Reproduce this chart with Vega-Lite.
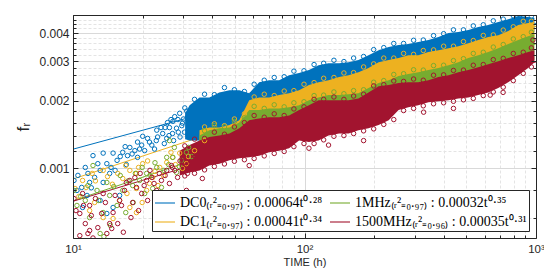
{
 "$schema": "https://vega.github.io/schema/vega-lite/v6.json",
 "width": 463,
 "height": 223,
 "autosize": {"type": "none"},
 "padding": {"left": 73, "top": 15, "right": 8, "bottom": 40},
 "background": "white",
 "config": {"view": {"stroke": null}},
 "datasets": {
  "fits": [
   {"s": "DC0", "t": 10, "f": 0.001218}, {"s": "DC0", "t": 1000, "f": 0.004427},
   {"s": "DC1", "t": 10, "f": 0.000897}, {"s": "DC1", "t": 1000, "f": 0.004293},
   {"s": "1MHz", "t": 10, "f": 0.000717}, {"s": "1MHz", "t": 1000, "f": 0.00359},
   {"s": "1500MHz", "t": 10, "f": 0.000714}, {"s": "1500MHz", "t": 1000, "f": 0.00298}
  ],
  "bands": [
   {"s":"DC0","t":30.5,"hi":0.00176,"lo":0.00135},{"s":"DC0","t":31.9,"hi":0.00191,"lo":0.00133},{"s":"DC0","t":35.2,"hi":0.00207,"lo":0.00133},{"s":"DC0","t":38.8,"hi":0.00207,"lo":0.00138},{"s":"DC0","t":42.9,"hi":0.00218,"lo":0.00138},{"s":"DC0","t":47.4,"hi":0.00223,"lo":0.0014},{"s":"DC0","t":52.3,"hi":0.00223,"lo":0.00148},{"s":"DC0","t":57.7,"hi":0.00216,"lo":0.00182},{"s":"DC0","t":63.7,"hi":0.00242,"lo":0.00187},{"s":"DC0","t":70.3,"hi":0.00247,"lo":0.00187},{"s":"DC0","t":77.7,"hi":0.00247,"lo":0.00191},{"s":"DC0","t":85.8,"hi":0.0026,"lo":0.00195},{"s":"DC0","t":94.7,"hi":0.00266,"lo":0.00201},{"s":"DC0","t":104.5,"hi":0.00274,"lo":0.00212},{"s":"DC0","t":115,"hi":0.00288,"lo":0.00218},{"s":"DC0","t":127,"hi":0.00294,"lo":0.00223},{"s":"DC0","t":141,"hi":0.00294,"lo":0.0023},{"s":"DC0","t":155,"hi":0.00297,"lo":0.00235},{"s":"DC0","t":171,"hi":0.00304,"lo":0.00242},{"s":"DC0","t":189,"hi":0.00319,"lo":0.00252},{"s":"DC0","t":209,"hi":0.00336,"lo":0.00268},{"s":"DC0","t":231,"hi":0.00347,"lo":0.00274},{"s":"DC0","t":255,"hi":0.00354,"lo":0.0028},{"s":"DC0","t":281,"hi":0.00358,"lo":0.00288},{"s":"DC0","t":310,"hi":0.00365,"lo":0.00288},{"s":"DC0","t":343,"hi":0.00373,"lo":0.00297},{"s":"DC0","t":379,"hi":0.00385,"lo":0.00304},{"s":"DC0","t":419,"hi":0.00401,"lo":0.0031},{"s":"DC0","t":462,"hi":0.00405,"lo":0.00316},{"s":"DC0","t":510,"hi":0.00413,"lo":0.00326},{"s":"DC0","t":563,"hi":0.00426,"lo":0.00336},{"s":"DC0","t":622,"hi":0.00435,"lo":0.00347},{"s":"DC0","t":687,"hi":0.00449,"lo":0.00354},{"s":"DC0","t":759,"hi":0.00462,"lo":0.00369},{"s":"DC0","t":838,"hi":0.00477,"lo":0.00392},{"s":"DC0","t":925,"hi":0.00472,"lo":0.00401},{"s":"DC0","t":984,"hi":0.00467,"lo":0.00405},
   {"s":"DC1","t":35.2,"hi":0.00148,"lo":0.00127},{"s":"DC1","t":38.8,"hi":0.00152,"lo":0.00133},{"s":"DC1","t":42.9,"hi":0.00152,"lo":0.00136},{"s":"DC1","t":47.4,"hi":0.00156,"lo":0.00138},{"s":"DC1","t":52.3,"hi":0.00164,"lo":0.00145},{"s":"DC1","t":57.7,"hi":0.00201,"lo":0.00164},{"s":"DC1","t":63.7,"hi":0.00207,"lo":0.00164},{"s":"DC1","t":70.3,"hi":0.00207,"lo":0.00167},{"s":"DC1","t":77.7,"hi":0.00212,"lo":0.00167},{"s":"DC1","t":85.8,"hi":0.00216,"lo":0.00169},{"s":"DC1","t":94.7,"hi":0.00223,"lo":0.00172},{"s":"DC1","t":104.5,"hi":0.00235,"lo":0.00182},{"s":"DC1","t":115,"hi":0.00242,"lo":0.00187},{"s":"DC1","t":127,"hi":0.00247,"lo":0.00191},{"s":"DC1","t":141,"hi":0.00255,"lo":0.00191},{"s":"DC1","t":155,"hi":0.0026,"lo":0.00193},{"s":"DC1","t":171,"hi":0.00268,"lo":0.00195},{"s":"DC1","t":189,"hi":0.0028,"lo":0.00205},{"s":"DC1","t":209,"hi":0.00297,"lo":0.00216},{"s":"DC1","t":231,"hi":0.00304,"lo":0.00223},{"s":"DC1","t":255,"hi":0.0031,"lo":0.00232},{"s":"DC1","t":281,"hi":0.00319,"lo":0.00237},{"s":"DC1","t":310,"hi":0.00319,"lo":0.00242},{"s":"DC1","t":343,"hi":0.0033,"lo":0.00247},{"s":"DC1","t":379,"hi":0.00336,"lo":0.00252},{"s":"DC1","t":419,"hi":0.00343,"lo":0.0026},{"s":"DC1","t":462,"hi":0.0035,"lo":0.00268},{"s":"DC1","t":510,"hi":0.00361,"lo":0.0028},{"s":"DC1","t":563,"hi":0.00373,"lo":0.00288},{"s":"DC1","t":622,"hi":0.00385,"lo":0.00297},{"s":"DC1","t":687,"hi":0.00392,"lo":0.0031},{"s":"DC1","t":759,"hi":0.00409,"lo":0.00323},{"s":"DC1","t":838,"hi":0.00435,"lo":0.00336},{"s":"DC1","t":925,"hi":0.00444,"lo":0.0035},{"s":"DC1","t":984,"hi":0.00449,"lo":0.00358},
   {"s":"1MHz","t":35.2,"hi":0.0014,"lo":0.0012},{"s":"1MHz","t":38.8,"hi":0.00148,"lo":0.00124},{"s":"1MHz","t":42.9,"hi":0.00151,"lo":0.00127},{"s":"1MHz","t":47.4,"hi":0.00152,"lo":0.00129},{"s":"1MHz","t":52.3,"hi":0.0016,"lo":0.00136},{"s":"1MHz","t":57.7,"hi":0.00182,"lo":0.00148},{"s":"1MHz","t":63.7,"hi":0.00182,"lo":0.00151},{"s":"1MHz","t":70.3,"hi":0.00185,"lo":0.00152},{"s":"1MHz","t":77.7,"hi":0.00185,"lo":0.00152},{"s":"1MHz","t":85.8,"hi":0.00187,"lo":0.00156},{"s":"1MHz","t":94.7,"hi":0.00191,"lo":0.00164},{"s":"1MHz","t":104.5,"hi":0.00201,"lo":0.00172},{"s":"1MHz","t":115,"hi":0.00207,"lo":0.00182},{"s":"1MHz","t":127,"hi":0.00212,"lo":0.00182},{"s":"1MHz","t":141,"hi":0.00212,"lo":0.00182},{"s":"1MHz","t":155,"hi":0.00214,"lo":0.00182},{"s":"1MHz","t":171,"hi":0.00216,"lo":0.00185},{"s":"1MHz","t":189,"hi":0.00228,"lo":0.00197},{"s":"1MHz","t":209,"hi":0.0024,"lo":0.0021},{"s":"1MHz","t":231,"hi":0.00247,"lo":0.00212},{"s":"1MHz","t":255,"hi":0.00258,"lo":0.00216},{"s":"1MHz","t":281,"hi":0.00263,"lo":0.00218},{"s":"1MHz","t":310,"hi":0.00268,"lo":0.00218},{"s":"1MHz","t":343,"hi":0.00274,"lo":0.00223},{"s":"1MHz","t":379,"hi":0.0028,"lo":0.0023},{"s":"1MHz","t":419,"hi":0.00288,"lo":0.00235},{"s":"1MHz","t":462,"hi":0.00297,"lo":0.00242},{"s":"1MHz","t":510,"hi":0.0031,"lo":0.00247},{"s":"1MHz","t":563,"hi":0.00319,"lo":0.00255},{"s":"1MHz","t":622,"hi":0.0033,"lo":0.00263},{"s":"1MHz","t":687,"hi":0.00343,"lo":0.00274},{"s":"1MHz","t":759,"hi":0.00358,"lo":0.0028},{"s":"1MHz","t":838,"hi":0.00373,"lo":0.00288},{"s":"1MHz","t":925,"hi":0.00388,"lo":0.00297},{"s":"1MHz","t":984,"hi":0.00396,"lo":0.00304},
   {"s":"1500MHz","t":28.9,"hi":0.0012,"lo":0.000931},{"s":"1500MHz","t":31.9,"hi":0.00127,"lo":0.00096},{"s":"1500MHz","t":35.2,"hi":0.00133,"lo":0.00098},{"s":"1500MHz","t":38.8,"hi":0.00138,"lo":0.00103},{"s":"1500MHz","t":42.9,"hi":0.0014,"lo":0.00105},{"s":"1500MHz","t":47.4,"hi":0.00143,"lo":0.001086},{"s":"1500MHz","t":52.3,"hi":0.00151,"lo":0.00111},{"s":"1500MHz","t":57.7,"hi":0.00164,"lo":0.00112},{"s":"1500MHz","t":63.7,"hi":0.00167,"lo":0.00114},{"s":"1500MHz","t":70.3,"hi":0.00169,"lo":0.00118},{"s":"1500MHz","t":77.7,"hi":0.00169,"lo":0.0012},{"s":"1500MHz","t":85.8,"hi":0.00172,"lo":0.00123},{"s":"1500MHz","t":94.7,"hi":0.00182,"lo":0.00133},{"s":"1500MHz","t":104.5,"hi":0.00191,"lo":0.00131},{"s":"1500MHz","t":115,"hi":0.00201,"lo":0.00133},{"s":"1500MHz","t":127,"hi":0.00201,"lo":0.0014},{"s":"1500MHz","t":141,"hi":0.00201,"lo":0.00143},{"s":"1500MHz","t":155,"hi":0.00201,"lo":0.00143},{"s":"1500MHz","t":171,"hi":0.00205,"lo":0.00148},{"s":"1500MHz","t":189,"hi":0.00218,"lo":0.00151},{"s":"1500MHz","t":209,"hi":0.00232,"lo":0.00156},{"s":"1500MHz","t":231,"hi":0.00235,"lo":0.00164},{"s":"1500MHz","t":255,"hi":0.0024,"lo":0.00182},{"s":"1500MHz","t":281,"hi":0.00242,"lo":0.00187},{"s":"1500MHz","t":310,"hi":0.00242,"lo":0.00191},{"s":"1500MHz","t":343,"hi":0.00247,"lo":0.00197},{"s":"1500MHz","t":379,"hi":0.00255,"lo":0.00199},{"s":"1500MHz","t":419,"hi":0.0026,"lo":0.00201},{"s":"1500MHz","t":462,"hi":0.00268,"lo":0.00205},{"s":"1500MHz","t":510,"hi":0.00274,"lo":0.00207},{"s":"1500MHz","t":563,"hi":0.00282,"lo":0.00212},{"s":"1500MHz","t":622,"hi":0.00291,"lo":0.00218},{"s":"1500MHz","t":687,"hi":0.003,"lo":0.00228},{"s":"1500MHz","t":759,"hi":0.0031,"lo":0.00242},{"s":"1500MHz","t":838,"hi":0.00319,"lo":0.0026},{"s":"1500MHz","t":925,"hi":0.0033,"lo":0.0028},{"s":"1500MHz","t":984,"hi":0.00336,"lo":0.00297}
  ],
  "pts": [
   {"s":"DC0","t":10.1,"f":0.000884},{"s":"DC0","t":11.3,"f":0.00101},{"s":"DC0","t":12.2,"f":0.00114},{"s":"DC0","t":13.1,"f":0.00098},{"s":"DC0","t":14.0,"f":0.00105},{"s":"DC0","t":14.9,"f":0.00117},{"s":"DC0","t":15.5,"f":0.001086},{"s":"DC0","t":16.4,"f":0.00118},{"s":"DC0","t":17.2,"f":0.00114},{"s":"DC0","t":17.6,"f":0.00124},{"s":"DC0","t":18.5,"f":0.0012},{"s":"DC0","t":19.0,"f":0.00131},{"s":"DC0","t":19.8,"f":0.00127},{"s":"DC0","t":20.4,"f":0.0012},{"s":"DC0","t":21.0,"f":0.00136},{"s":"DC0","t":21.9,"f":0.00127},{"s":"DC0","t":23.0,"f":0.00148},{"s":"DC0","t":23.2,"f":0.00138},{"s":"DC0","t":24.4,"f":0.00143},{"s":"DC0","t":25.4,"f":0.00136},{"s":"DC0","t":25.6,"f":0.0016},{"s":"DC0","t":26.1,"f":0.00152},{"s":"DC0","t":26.9,"f":0.00143},{"s":"DC0","t":28.0,"f":0.00151},{"s":"DC0","t":28.9,"f":0.00176},{"s":"DC0","t":29.7,"f":0.00159},{"s":"DC0","t":30.3,"f":0.00145},{"s":"DC0","t":31.2,"f":0.00169},{"s":"DC0","t":10.5,"f":0.000931},{"s":"DC0","t":10.9,"f":0.000823},{"s":"DC0","t":11.8,"f":0.000866},{"s":"DC0","t":12.4,"f":0.000912},{"s":"DC0","t":13.5,"f":0.000866},{"s":"DC0","t":14.4,"f":0.00095},{"s":"DC0","t":10.4,"f":0.000798},{"s":"DC0","t":11.5,"f":0.000758},{"s":"DC0","t":13.1,"f":0.00072},{"s":"DC0","t":14.0,"f":0.00063},{"s":"DC0","t":14.9,"f":0.00067},{"s":"DC0","t":15.9,"f":0.000758},{"s":"DC0","t":11.0,"f":0.00067},{"s":"DC0","t":13.5,"f":0.00117},
   {"s":"DC0","t":12.8,"f":0.00105},{"s":"DC0","t":14.6,"f":0.00101},{"s":"DC0","t":16.0,"f":0.00113},{"s":"DC0","t":16.8,"f":0.00125},{"s":"DC0","t":18.0,"f":0.00116},{"s":"DC0","t":19.4,"f":0.00122},{"s":"DC0","t":20.0,"f":0.00139},{"s":"DC0","t":21.4,"f":0.00131},{"s":"DC0","t":22.5,"f":0.00122},{"s":"DC0","t":22.9,"f":0.00133},{"s":"DC0","t":24.0,"f":0.00152},{"s":"DC0","t":24.8,"f":0.00129},{"s":"DC0","t":26.0,"f":0.0014},{"s":"DC0","t":27.2,"f":0.00133},{"s":"DC0","t":28.4,"f":0.00165},{"s":"DC0","t":11.6,"f":0.00095},{"s":"DC0","t":12.0,"f":0.00082},{"s":"DC0","t":15.2,"f":0.00098},{"s":"DC0","t":17.0,"f":0.00104},{"s":"DC0","t":19.0,"f":0.00112},
   {"s":"DC0","t":27.0,"f":0.00162},{"s":"DC0","t":27.5,"f":0.0017},{"s":"DC0","t":29.5,"f":0.00155},{"s":"DC0","t":30.0,"f":0.00166},{"s":"DC0","t":31.0,"f":0.0018},{"s":"DC0","t":32.5,"f":0.00172},{"s":"DC0","t":33.0,"f":0.0015},{"s":"DC0","t":34.0,"f":0.00162},{"s":"DC0","t":28.5,"f":0.00145},{"s":"DC0","t":26.5,"f":0.00165},{"s":"DC0","t":25.0,"f":0.00152},{"s":"DC0","t":29.0,"f":0.00138},{"s":"DC0","t":31.5,"f":0.0014},
   {"s":"DC0","t":30.4,"f":0.00186},{"s":"DC0","t":33.5,"f":0.00203},{"s":"DC0","t":37,"f":0.00214},{"s":"DC0","t":40.8,"f":0.00213},{"s":"DC0","t":45.1,"f":0.00229},{"s":"DC0","t":49.8,"f":0.00224},{"s":"DC0","t":55,"f":0.0022},{"s":"DC0","t":60.6,"f":0.00237},{"s":"DC0","t":67,"f":0.00247},{"s":"DC0","t":74,"f":0.00254},{"s":"DC0","t":81.7,"f":0.00256},{"s":"DC0","t":90,"f":0.00271},{"s":"DC0","t":99.5,"f":0.00272},{"s":"DC0","t":110,"f":0.0029},{"s":"DC0","t":121,"f":0.00294},{"s":"DC0","t":134,"f":0.00303},{"s":"DC0","t":148,"f":0.00299},{"s":"DC0","t":163,"f":0.0031},{"s":"DC0","t":180,"f":0.00315},{"s":"DC0","t":199,"f":0.00338},{"s":"DC0","t":220,"f":0.00345},{"s":"DC0","t":243,"f":0.0036},{"s":"DC0","t":268,"f":0.0036},{"s":"DC0","t":296,"f":0.00372},{"s":"DC0","t":326,"f":0.00373},{"s":"DC0","t":361,"f":0.0039},{"s":"DC0","t":399,"f":0.00398},{"s":"DC0","t":440,"f":0.00414},{"s":"DC0","t":486,"f":0.00414},{"s":"DC0","t":536,"f":0.00431},{"s":"DC0","t":592,"f":0.00436},{"s":"DC0","t":654,"f":0.00454},{"s":"DC0","t":722,"f":0.00462},{"s":"DC0","t":798,"f":0.00478},{"s":"DC0","t":881,"f":0.0048},{"s":"DC0","t":955,"f":0.00476},
   {"s":"DC1","t":10.2,"f":0.000814},{"s":"DC1","t":11.0,"f":0.000884},{"s":"DC1","t":12.1,"f":0.00095},{"s":"DC1","t":13.5,"f":0.00098},{"s":"DC1","t":15.9,"f":0.00072},{"s":"DC1","t":16.4,"f":0.000902},{"s":"DC1","t":17.6,"f":0.00098},{"s":"DC1","t":18.8,"f":0.00095},{"s":"DC1","t":20.0,"f":0.00105},{"s":"DC1","t":20.8,"f":0.000798},{"s":"DC1","t":22.1,"f":0.000912},{"s":"DC1","t":23.7,"f":0.00101},{"s":"DC1","t":25.4,"f":0.001064},{"s":"DC1","t":13.5,"f":0.000604},{"s":"DC1","t":14.9,"f":0.000598},{"s":"DC1","t":17.6,"f":0.00067},{"s":"DC1","t":18.8,"f":0.000636},{"s":"DC1","t":11.8,"f":0.000649},{"s":"DC1","t":26.9,"f":0.00112},{"s":"DC1","t":28.9,"f":0.00117},{"s":"DC1","t":29.7,"f":0.001},{"s":"DC1","t":30.9,"f":0.00105},{"s":"DC1","t":18.8,"f":0.000814},{"s":"DC1","t":17.1,"f":0.000773},{"s":"DC1","t":21.4,"f":0.000857},{"s":"DC1","t":33.5,"f":0.0012},{"s":"DC1","t":37.0,"f":0.00133},
   {"s":"DC1","t":10.6,"f":0.00075},{"s":"DC1","t":11.4,"f":0.000823},{"s":"DC1","t":12.5,"f":0.00088},{"s":"DC1","t":14.1,"f":0.00092},{"s":"DC1","t":14.8,"f":0.00085},{"s":"DC1","t":15.6,"f":0.00095},{"s":"DC1","t":16.9,"f":0.00103},{"s":"DC1","t":19.2,"f":0.00101},{"s":"DC1","t":21.0,"f":0.00108},{"s":"DC1","t":22.6,"f":0.00097},{"s":"DC1","t":24.6,"f":0.00093},{"s":"DC1","t":26.5,"f":0.00118},{"s":"DC1","t":27.7,"f":0.00104},{"s":"DC1","t":31.5,"f":0.00113},{"s":"DC1","t":12.4,"f":0.000705},{"s":"DC1","t":19.9,"f":0.000705},{"s":"DC1","t":23.3,"f":0.000839},
   {"s":"DC1","t":37,"f":0.00153},{"s":"DC1","t":40.8,"f":0.00158},{"s":"DC1","t":45.1,"f":0.00155},{"s":"DC1","t":49.8,"f":0.00166},{"s":"DC1","t":55,"f":0.00175},{"s":"DC1","t":60.6,"f":0.00208},{"s":"DC1","t":67,"f":0.00214},{"s":"DC1","t":74,"f":0.00211},{"s":"DC1","t":81.7,"f":0.00221},{"s":"DC1","t":90,"f":0.00222},{"s":"DC1","t":99.5,"f":0.00237},{"s":"DC1","t":110,"f":0.00241},{"s":"DC1","t":121,"f":0.00252},{"s":"DC1","t":134,"f":0.00254},{"s":"DC1","t":148,"f":0.00266},{"s":"DC1","t":163,"f":0.00267},{"s":"DC1","t":180,"f":0.00283},{"s":"DC1","t":199,"f":0.00292},{"s":"DC1","t":220,"f":0.0031},{"s":"DC1","t":243,"f":0.0031},{"s":"DC1","t":268,"f":0.00325},{"s":"DC1","t":296,"f":0.00322},{"s":"DC1","t":326,"f":0.00335},{"s":"DC1","t":361,"f":0.00337},{"s":"DC1","t":399,"f":0.0035},{"s":"DC1","t":440,"f":0.0035},{"s":"DC1","t":486,"f":0.00367},{"s":"DC1","t":536,"f":0.00371},{"s":"DC1","t":592,"f":0.00391},{"s":"DC1","t":654,"f":0.00393},{"s":"DC1","t":722,"f":0.00413},{"s":"DC1","t":798,"f":0.00427},{"s":"DC1","t":881,"f":0.00452},{"s":"DC1","t":955,"f":0.00452},
   {"s":"1MHz","t":10.1,"f":0.000798},{"s":"1MHz","t":10.4,"f":0.000684},{"s":"1MHz","t":11.3,"f":0.00072},{"s":"1MHz","t":12.2,"f":0.00103},{"s":"1MHz","t":12.7,"f":0.000798},{"s":"1MHz","t":13.5,"f":0.000636},{"s":"1MHz","t":14.4,"f":0.000758},{"s":"1MHz","t":15.5,"f":0.000684},{"s":"1MHz","t":16.4,"f":0.000798},{"s":"1MHz","t":18.1,"f":0.000839},{"s":"1MHz","t":19.4,"f":0.000884},{"s":"1MHz","t":20.8,"f":0.00095},{"s":"1MHz","t":23.0,"f":0.00101},{"s":"1MHz","t":24.1,"f":0.000823},{"s":"1MHz","t":25.4,"f":0.00112},{"s":"1MHz","t":26.1,"f":0.00133},{"s":"1MHz","t":27.4,"f":0.00124},{"s":"1MHz","t":28.0,"f":0.00096},{"s":"1MHz","t":29.4,"f":0.001086},{"s":"1MHz","t":30.9,"f":0.00118},{"s":"1MHz","t":13.1,"f":0.000513},{"s":"1MHz","t":11.8,"f":0.000604},{"s":"1MHz","t":22.1,"f":0.000814},{"s":"1MHz","t":20.4,"f":0.000773},{"s":"1MHz","t":13.6,"f":0.000497},
   {"s":"1MHz","t":10.8,"f":0.00075},{"s":"1MHz","t":11.6,"f":0.000839},{"s":"1MHz","t":12.9,"f":0.00072},{"s":"1MHz","t":14.0,"f":0.000866},{"s":"1MHz","t":15.0,"f":0.00083},{"s":"1MHz","t":16.0,"f":0.00093},{"s":"1MHz","t":17.3,"f":0.00088},{"s":"1MHz","t":18.6,"f":0.00095},{"s":"1MHz","t":19.9,"f":0.00101},{"s":"1MHz","t":21.5,"f":0.00093},{"s":"1MHz","t":22.6,"f":0.00106},{"s":"1MHz","t":24.7,"f":0.00098},{"s":"1MHz","t":25.9,"f":0.00104},{"s":"1MHz","t":27.0,"f":0.00112},{"s":"1MHz","t":28.8,"f":0.00102},{"s":"1MHz","t":31.6,"f":0.00124},{"s":"1MHz","t":32.5,"f":0.00113},{"s":"1MHz","t":16.9,"f":0.000636},{"s":"1MHz","t":18.2,"f":0.000705},{"s":"1MHz","t":14.5,"f":0.000557},
   {"s":"1MHz","t":37,"f":0.00147},{"s":"1MHz","t":40.8,"f":0.00155},{"s":"1MHz","t":45.1,"f":0.00153},{"s":"1MHz","t":49.8,"f":0.00162},{"s":"1MHz","t":55,"f":0.00168},{"s":"1MHz","t":60.6,"f":0.00189},{"s":"1MHz","t":67,"f":0.00185},{"s":"1MHz","t":74,"f":0.00192},{"s":"1MHz","t":81.7,"f":0.00188},{"s":"1MHz","t":90,"f":0.00196},{"s":"1MHz","t":99.5,"f":0.00198},{"s":"1MHz","t":110,"f":0.00211},{"s":"1MHz","t":121,"f":0.00212},{"s":"1MHz","t":134,"f":0.00219},{"s":"1MHz","t":148,"f":0.00215},{"s":"1MHz","t":163,"f":0.00222},{"s":"1MHz","t":180,"f":0.00224},{"s":"1MHz","t":199,"f":0.00242},{"s":"1MHz","t":220,"f":0.00246},{"s":"1MHz","t":243,"f":0.00262},{"s":"1MHz","t":268,"f":0.00264},{"s":"1MHz","t":296,"f":0.00275},{"s":"1MHz","t":326,"f":0.00274},{"s":"1MHz","t":361,"f":0.00287},{"s":"1MHz","t":399,"f":0.00288},{"s":"1MHz","t":440,"f":0.00302},{"s":"1MHz","t":486,"f":0.00308},{"s":"1MHz","t":536,"f":0.00325},{"s":"1MHz","t":592,"f":0.00329},{"s":"1MHz","t":654,"f":0.00347},{"s":"1MHz","t":722,"f":0.00356},{"s":"1MHz","t":798,"f":0.00377},{"s":"1MHz","t":881,"f":0.00386},{"s":"1MHz","t":955,"f":0.00404},
   {"s":"1500MHz","t":10.1,"f":0.000734},{"s":"1500MHz","t":10.7,"f":0.00063},{"s":"1500MHz","t":11.3,"f":0.000568},{"s":"1500MHz","t":11.8,"f":0.000684},{"s":"1500MHz","t":12.8,"f":0.000545},{"s":"1500MHz","t":13.3,"f":0.00063},{"s":"1500MHz","t":14.0,"f":0.000513},{"s":"1500MHz","t":14.4,"f":0.000568},{"s":"1500MHz","t":14.9,"f":0.000636},{"s":"1500MHz","t":15.9,"f":0.00072},{"s":"1500MHz","t":16.7,"f":0.000798},{"s":"1500MHz","t":17.6,"f":0.000884},{"s":"1500MHz","t":18.1,"f":0.000705},{"s":"1500MHz","t":18.8,"f":0.000823},{"s":"1500MHz","t":19.8,"f":0.000773},{"s":"1500MHz","t":20.8,"f":0.000884},{"s":"1500MHz","t":21.9,"f":0.000912},{"s":"1500MHz","t":23.0,"f":0.000798},{"s":"1500MHz","t":24.1,"f":0.000884},{"s":"1500MHz","t":25.4,"f":0.00098},{"s":"1500MHz","t":26.1,"f":0.000857},{"s":"1500MHz","t":26.9,"f":0.00101},{"s":"1500MHz","t":28.3,"f":0.000912},{"s":"1500MHz","t":29.7,"f":0.00103},{"s":"1500MHz","t":31.2,"f":0.00095},{"s":"1500MHz","t":10.7,"f":0.000502},{"s":"1500MHz","t":11.8,"f":0.000529},{"s":"1500MHz","t":14.7,"f":0.00054},{"s":"1500MHz","t":21.0,"f":0.00072},{"s":"1500MHz","t":24.1,"f":0.000705},{"s":"1500MHz","t":28.0,"f":0.000773},{"s":"1500MHz","t":13.5,"f":0.000773},{"s":"1500MHz","t":11.0,"f":0.000773},{"s":"1500MHz","t":11.6,"f":0.000513},{"s":"1500MHz","t":36.2,"f":0.000902},{"s":"1500MHz","t":30.9,"f":0.000798},{"s":"1500MHz","t":57.7,"f":0.00103},{"s":"1500MHz","t":104.5,"f":0.00123},{"s":"1500MHz","t":127,"f":0.00127},{"s":"1500MHz","t":180,"f":0.00133},{"s":"1500MHz","t":327,"f":0.00178},{"s":"1500MHz","t":440,"f":0.00185},{"s":"1500MHz","t":634,"f":0.00212},{"s":"1500MHz","t":721,"f":0.00218},{"s":"1500MHz","t":970,"f":0.00373},
   {"s":"1500MHz","t":10.3,"f":0.000649},{"s":"1500MHz","t":11.1,"f":0.000684},{"s":"1500MHz","t":12.0,"f":0.000617},{"s":"1500MHz","t":12.5,"f":0.000734},{"s":"1500MHz","t":13.8,"f":0.000705},{"s":"1500MHz","t":15.2,"f":0.000758},{"s":"1500MHz","t":16.2,"f":0.000684},{"s":"1500MHz","t":17.0,"f":0.000866},{"s":"1500MHz","t":18.5,"f":0.00091},{"s":"1500MHz","t":19.5,"f":0.00095},{"s":"1500MHz","t":20.3,"f":0.000839},{"s":"1500MHz","t":21.5,"f":0.00098},{"s":"1500MHz","t":22.4,"f":0.000857},{"s":"1500MHz","t":23.6,"f":0.00095},{"s":"1500MHz","t":25.0,"f":0.00093},{"s":"1500MHz","t":26.6,"f":0.00103},{"s":"1500MHz","t":27.5,"f":0.00098},{"s":"1500MHz","t":29.0,"f":0.00108},{"s":"1500MHz","t":30.0,"f":0.00112},{"s":"1500MHz","t":32.0,"f":0.00105},{"s":"1500MHz","t":33.8,"f":0.00113},{"s":"1500MHz","t":15.6,"f":0.000568},{"s":"1500MHz","t":17.8,"f":0.000604},{"s":"1500MHz","t":19.2,"f":0.000649},{"s":"1500MHz","t":12.2,"f":0.00049},{"s":"1500MHz","t":16.5,"f":0.00052},
   {"s":"1500MHz","t":30.4,"f":0.00126},{"s":"1500MHz","t":33.5,"f":0.00135},{"s":"1500MHz","t":37,"f":0.00136},{"s":"1500MHz","t":40.8,"f":0.00145},{"s":"1500MHz","t":45.1,"f":0.00142},{"s":"1500MHz","t":49.8,"f":0.00153},{"s":"1500MHz","t":55,"f":0.0016},{"s":"1500MHz","t":60.6,"f":0.00172},{"s":"1500MHz","t":67,"f":0.00169},{"s":"1500MHz","t":74,"f":0.00175},{"s":"1500MHz","t":81.7,"f":0.00172},{"s":"1500MHz","t":90,"f":0.00184},{"s":"1500MHz","t":99.5,"f":0.00188},{"s":"1500MHz","t":110,"f":0.00203},{"s":"1500MHz","t":121,"f":0.00203},{"s":"1500MHz","t":134,"f":0.00208},{"s":"1500MHz","t":148,"f":0.00203},{"s":"1500MHz","t":163,"f":0.0021},{"s":"1500MHz","t":180,"f":0.00214},{"s":"1500MHz","t":199,"f":0.00233},{"s":"1500MHz","t":220,"f":0.00236},{"s":"1500MHz","t":243,"f":0.00245},{"s":"1500MHz","t":268,"f":0.00244},{"s":"1500MHz","t":296,"f":0.0025},{"s":"1500MHz","t":326,"f":0.00247},{"s":"1500MHz","t":361,"f":0.0026},{"s":"1500MHz","t":399,"f":0.00261},{"s":"1500MHz","t":440,"f":0.00273},{"s":"1500MHz","t":486,"f":0.00274},{"s":"1500MHz","t":536,"f":0.00288},{"s":"1500MHz","t":592,"f":0.0029},{"s":"1500MHz","t":654,"f":0.00305},{"s":"1500MHz","t":722,"f":0.00309},{"s":"1500MHz","t":798,"f":0.00325},{"s":"1500MHz","t":881,"f":0.00329},{"s":"1500MHz","t":955,"f":0.00344},
   {"s":"1500MHz","t":30.4,"f":0.000926},{"s":"1500MHz","t":33.5,"f":0.000951},{"s":"1500MHz","t":37,"f":0.000985},{"s":"1500MHz","t":40.8,"f":0.00102},{"s":"1500MHz","t":45.1,"f":0.001047},{"s":"1500MHz","t":49.8,"f":0.001076},{"s":"1500MHz","t":55,"f":0.001093},{"s":"1500MHz","t":60.6,"f":0.001107},{"s":"1500MHz","t":67,"f":0.001137},{"s":"1500MHz","t":74,"f":0.001166},{"s":"1500MHz","t":81.7,"f":0.00119},{"s":"1500MHz","t":90,"f":0.00125},{"s":"1500MHz","t":99.5,"f":0.00129},{"s":"1500MHz","t":110,"f":0.00129},{"s":"1500MHz","t":121,"f":0.00134},{"s":"1500MHz","t":134,"f":0.00139},{"s":"1500MHz","t":148,"f":0.0014},{"s":"1500MHz","t":163,"f":0.00143},{"s":"1500MHz","t":180,"f":0.00147},{"s":"1500MHz","t":199,"f":0.0015},{"s":"1500MHz","t":220,"f":0.00157},{"s":"1500MHz","t":243,"f":0.00165},{"s":"1500MHz","t":268,"f":0.00181},{"s":"1500MHz","t":296,"f":0.00185},{"s":"1500MHz","t":326,"f":0.0019},{"s":"1500MHz","t":361,"f":0.00194},{"s":"1500MHz","t":399,"f":0.00196},{"s":"1500MHz","t":440,"f":0.00199},{"s":"1500MHz","t":486,"f":0.00202},{"s":"1500MHz","t":536,"f":0.00205},{"s":"1500MHz","t":592,"f":0.00211},{"s":"1500MHz","t":654,"f":0.00219},{"s":"1500MHz","t":722,"f":0.0023},{"s":"1500MHz","t":798,"f":0.00246},{"s":"1500MHz","t":881,"f":0.00265},{"s":"1500MHz","t":955,"f":0.00283}
  ]
 },
 "layer": [
  {
   "data": {"name": "fits"},
   "mark": {"type": "line", "strokeWidth": 1, "clip": true},
   "encoding": {
    "x": {"field": "t", "type": "quantitative", "scale": {"type": "log", "domain": [10, 1000], "nice": false},
     "axis": {"orient": "bottom", "values": [10,20,30,40,50,60,70,80,90,100,200,300,400,500,600,700,800,900,1000],
      "labelExpr": "datum.value==10?'10¹':datum.value==100?'10²':datum.value==1000?'10³':''",
      "title": "TIME (h)", "ticks": false, "domain": false, "grid": true,
      "gridColor": {"condition": {"test": "datum.value==10||datum.value==100||datum.value==1000", "value": "#d9d9d9"}, "value": "#e4e4e4"},
      "gridDash": {"condition": {"test": "datum.value==10||datum.value==100||datum.value==1000", "value": []}, "value": [3, 2]},
      "labelFont": "Liberation Sans", "labelFontSize": 11.5, "labelColor": "#262626", "labelPadding": 5, "labelFlush": false, "labelOverlap": false,
      "titleFont": "Liberation Sans", "titleFontSize": 11, "titleFontWeight": "normal", "titleColor": "#262626", "titlePadding": 2}},
    "y": {"field": "f", "type": "quantitative", "scale": {"type": "log", "domain": [0.00049, 0.00482], "nice": false},
     "axis": {"orient": "left", "values": [0.0006,0.0008,0.001,0.0012,0.0014,0.0016,0.0018,0.002,0.0022,0.0024,0.0026,0.0028,0.003,0.0032,0.0034,0.0036,0.0038,0.004,0.0042,0.0044,0.0046,0.0048],
      "labelExpr": "(datum.value==0.001||datum.value==0.002||datum.value==0.003||datum.value==0.004)?format(datum.value,'.3f'):''",
      "title": "fᵣ", "ticks": false, "domain": false, "grid": true,
      "gridColor": {"condition": {"test": "datum.value==0.001||datum.value==0.002||datum.value==0.003||datum.value==0.004", "value": "#d9d9d9"}, "value": "#e4e4e4"},
      "gridDash": {"condition": {"test": "datum.value==0.001||datum.value==0.002||datum.value==0.003||datum.value==0.004", "value": []}, "value": [3, 2]},
      "labelFont": "Liberation Sans", "labelFontSize": 12, "labelColor": "#262626", "labelPadding": 4, "labelOverlap": false, "labelFlush": false,
      "titleFont": "Liberation Sans", "titleFontSize": 17, "titleFontWeight": "normal", "titleColor": "#262626", "titlePadding": 6}},
    "color": {"field": "s", "type": "nominal",
     "scale": {"domain": ["DC0", "DC1", "1MHz", "1500MHz"], "range": ["#0072BD", "#EDB120", "#77AC30", "#A2142F"]},
     "legend": {"orient": "bottom-right", "offset": 7, "columns": 2, "title": null, "symbolType": "stroke", "symbolSize": 400, "symbolStrokeWidth": 1.1,
      "labelFont": "Liberation Serif", "labelFontSize": 14, "labelColor": "#000000", "labelLimit": 400,
      "strokeColor": "#262626", "fillColor": "#ffffff", "padding": 2, "rowPadding": 1, "columnPadding": 4, "symbolOffset": 0,
      "labelExpr": "datum.label=='DC0'?'DC0₍ᵣ²₌₀.₉₇₎ : 0.00064t⁰·²⁸':datum.label=='DC1'?'DC1₍ᵣ²₌₀.₉₇₎ : 0.00041t⁰·³⁴':datum.label=='1MHz'?'1MHz₍ᵣ²₌₀.₉₇₎ : 0.00032t⁰·³⁵':'1500MHz₍ᵣ²₌₀.₉₆₎ : 0.00035t⁰·³¹'"}}
   }
  },
  {
   "data": {"name": "bands"},
   "transform": [{"filter": "datum.s=='DC0'"}],
   "mark": {"type": "area", "color": "#0072BD", "opacity": 1, "clip": true},
   "encoding": {
    "x": {"field": "t", "type": "quantitative", "scale": {"type": "log", "domain": [10, 1000], "nice": false},
     "axis": {"orient": "top", "values": [10,20,30,40,50,60,70,80,90,100,200,300,400,500,600,700,800,900,1000], "labels": false, "title": null, "grid": false, "domain": true, "domainColor": "#262626", "tickColor": "#262626", "zindex": 1,
      "tickSize": {"condition": {"test": "datum.value==10||datum.value==100||datum.value==1000", "value": -5}, "value": -3}}},
    "y": {"field": "hi", "type": "quantitative", "scale": {"type": "log", "domain": [0.00049, 0.00482], "nice": false},
     "axis": {"orient": "right", "values": [0.0006,0.0008,0.001,0.0012,0.0014,0.0016,0.0018,0.002,0.0022,0.0024,0.0026,0.0028,0.003,0.0032,0.0034,0.0036,0.0038,0.004,0.0042,0.0044,0.0046,0.0048], "labels": false, "title": null, "grid": false, "domain": true, "domainColor": "#262626", "tickColor": "#262626", "zindex": 1,
      "tickSize": {"condition": {"test": "datum.value==0.001||datum.value==0.002||datum.value==0.003||datum.value==0.004", "value": -5}, "value": -3}}},
    "y2": {"field": "lo"}
   }
  },
  {
   "data": {"name": "bands"},
   "transform": [{"filter": "datum.s=='DC1'"}],
   "mark": {"type": "area", "color": "#EDB120", "opacity": 1, "clip": true},
   "encoding": {
    "x": {"field": "t", "type": "quantitative", "scale": {"type": "log", "domain": [10, 1000], "nice": false},
     "axis": {"orient": "bottom", "values": [10,20,30,40,50,60,70,80,90,100,200,300,400,500,600,700,800,900,1000], "labels": false, "title": null, "grid": false, "domain": true, "domainColor": "#262626", "tickColor": "#262626", "zindex": 1,
      "tickSize": {"condition": {"test": "datum.value==10||datum.value==100||datum.value==1000", "value": -5}, "value": -3}}},
    "y": {"field": "hi", "type": "quantitative", "scale": {"type": "log", "domain": [0.00049, 0.00482], "nice": false},
     "axis": {"orient": "left", "values": [0.0006,0.0008,0.001,0.0012,0.0014,0.0016,0.0018,0.002,0.0022,0.0024,0.0026,0.0028,0.003,0.0032,0.0034,0.0036,0.0038,0.004,0.0042,0.0044,0.0046,0.0048], "labels": false, "title": null, "grid": false, "domain": true, "domainColor": "#262626", "tickColor": "#262626", "zindex": 1,
      "tickSize": {"condition": {"test": "datum.value==0.001||datum.value==0.002||datum.value==0.003||datum.value==0.004", "value": -5}, "value": -3}}},
    "y2": {"field": "lo"}
   }
  },
  {
   "data": {"name": "bands"},
   "transform": [{"filter": "datum.s=='1MHz'"}],
   "mark": {"type": "area", "color": "#77AC30", "opacity": 1, "clip": true},
   "encoding": {
    "x": {"field": "t", "type": "quantitative", "scale": {"type": "log", "domain": [10, 1000], "nice": false}, "axis": null},
    "y": {"field": "hi", "type": "quantitative", "scale": {"type": "log", "domain": [0.00049, 0.00482], "nice": false}, "axis": null},
    "y2": {"field": "lo"}
   }
  },
  {
   "data": {"name": "bands"},
   "transform": [{"filter": "datum.s=='1500MHz'"}],
   "mark": {"type": "area", "color": "#A2142F", "opacity": 1, "clip": true},
   "encoding": {
    "x": {"field": "t", "type": "quantitative", "scale": {"type": "log", "domain": [10, 1000], "nice": false}, "axis": null},
    "y": {"field": "hi", "type": "quantitative", "scale": {"type": "log", "domain": [0.00049, 0.00482], "nice": false}, "axis": null},
    "y2": {"field": "lo"}
   }
  },
  {
   "data": {"name": "pts"},
   "mark": {"type": "point", "filled": false, "size": 20, "strokeWidth": 1, "opacity": 1, "clip": true},
   "encoding": {
    "x": {"field": "t", "type": "quantitative", "scale": {"type": "log", "domain": [10, 1000], "nice": false}, "axis": null},
    "y": {"field": "f", "type": "quantitative", "scale": {"type": "log", "domain": [0.00049, 0.00482], "nice": false}, "axis": null},
    "stroke": {"field": "s", "type": "nominal", "scale": {"domain": ["DC0", "DC1", "1MHz", "1500MHz"], "range": ["#0072BD", "#EDB120", "#77AC30", "#A2142F"]}, "legend": null}
   }
  }
 ],
 "resolve": {"axis": {"x": "independent", "y": "independent"}}
}
